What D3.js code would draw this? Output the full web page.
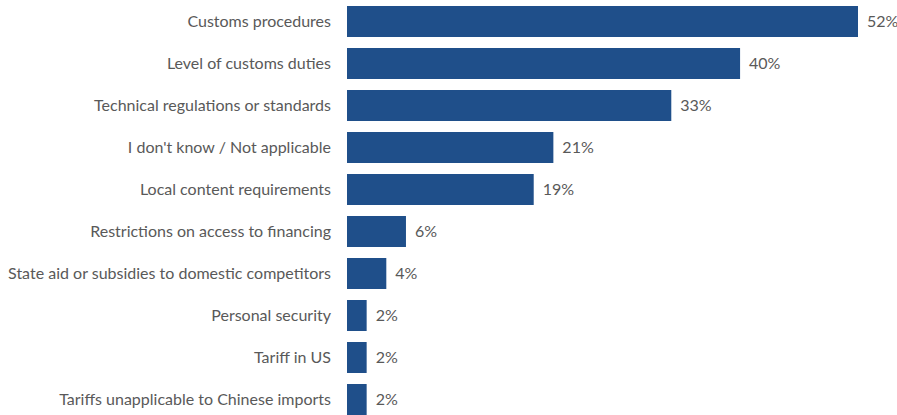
<!DOCTYPE html>
<html>
<head>
<meta charset="utf-8">
<script src="https://cdn.jsdelivr.net/npm/d3@7"></script>
<style>
  html, body { margin: 0; padding: 0; background: #fff; }
  svg { display: block; }
  text { font-family: Lato, "Open Sans", sans-serif; }
</style>
</head>
<body>
<svg id="chart" width="897" height="415"></svg>
<script>
// Obstacles reported, share of respondents (%)
const categories = [
  "Customs procedures",
  "Level of customs duties",
  "Technical regulations or standards",
  "I don't know / Not applicable",
  "Local content requirements",
  "Restrictions on access to financing",
  "State aid or subsidies to domestic competitors",
  "Personal security",
  "Tariff in US",
  "Tariffs unapplicable to Chinese imports"
];
const values = [52, 40, 33, 21, 19, 6, 4, 2, 2, 2];

const left = 347;
const barColor = "#1F4F8A";
const textColor = "#595959";
const fontSize = "16px";

const svg = d3.select("#chart");

const x = d3.scaleLinear()
  .domain([0, d3.max(values)])
  .range([left, 858]);

const y = d3.scaleBand()
  .domain(categories)
  .range([0.5, 420.5])
  .paddingInner(0.262)
  .paddingOuter(0.131);

const rows = categories.map((c, i) => ({ label: c, value: values[i] }));

svg.selectAll("rect.bar")
  .data(rows)
  .join("rect")
  .attr("class", "bar")
  .attr("x", x(0))
  .attr("y", d => y(d.label))
  .attr("width", d => x(d.value) - x(0))
  .attr("height", y.bandwidth())
  .attr("fill", barColor);

// Category axis on the left, without domain line or ticks
const yAxis = d3.axisLeft(y).tickSize(0).tickPadding(16);
const gy = svg.append("g")
  .attr("transform", `translate(${x(0)},0)`)
  .call(yAxis);
gy.select(".domain").remove();
gy.selectAll("text")
  .attr("fill", textColor)
  .style("font-size", fontSize)
  .style("font-family", "Lato, 'Open Sans', sans-serif");

// Value labels after each bar
svg.selectAll("text.value")
  .data(rows)
  .join("text")
  .attr("class", "value")
  .attr("x", d => x(d.value) + 9)
  .attr("y", d => y(d.label) + y.bandwidth() / 2)
  .attr("dy", "0.35em")
  .attr("fill", textColor)
  .style("font-size", fontSize)
  .text(d => d.value + "%");
</script>
</body>
</html>
